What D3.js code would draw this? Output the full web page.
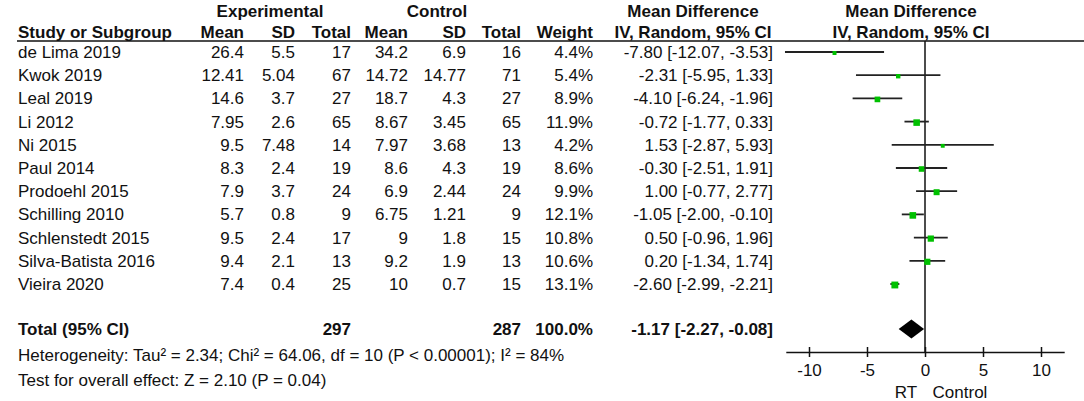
<!DOCTYPE html>
<html><head><meta charset="utf-8">
<script src="https://cdn.jsdelivr.net/npm/d3@7/dist/d3.min.js"></script>
<style>
body{margin:0;background:#fff}
text{font-family:"Liberation Sans",Arial,sans-serif;fill:#111}
</style></head>
<body><svg id="c" width="1084" height="401"></svg>
<script>
const studies = ["de Lima 2019","Kwok 2019","Leal 2019","Li 2012","Ni 2015","Paul 2014","Prodoehl 2015","Schilling 2010","Schlenstedt 2015","Silva-Batista 2016","Vieira 2020"];
const expMean = ["26.4","12.41","14.6","7.95","9.5","8.3","7.9","5.7","9.5","9.4","7.4"];
const expSD   = ["5.5","5.04","3.7","2.6","7.48","2.4","3.7","0.8","2.4","2.1","0.4"];
const expN    = [17,67,27,65,14,19,24,9,17,13,25];
const ctlMean = ["34.2","14.72","18.7","8.67","7.97","8.6","6.9","6.75","9","9.2","10"];
const ctlSD   = ["6.9","14.77","4.3","3.45","3.68","4.3","2.44","1.21","1.8","1.9","0.7"];
const ctlN    = [16,71,27,65,13,19,24,9,15,13,15];
const weight  = [4.4,5.4,8.9,11.9,4.2,8.6,9.9,12.1,10.8,10.6,13.1];
const md      = [-7.80,-2.31,-4.10,-0.72,1.53,-0.30,1.00,-1.05,0.50,0.20,-2.60];
const lo      = [-12.07,-5.95,-6.24,-1.77,-2.87,-2.51,-0.77,-2.00,-0.96,-1.34,-2.99];
const hi      = [-3.53,1.33,-1.96,0.33,5.93,1.91,2.77,-0.10,1.96,1.74,-2.21];
const total   = {expN:297, ctlN:287, weight:100.0, md:-1.17, lo:-2.27, hi:-0.08};
const ticks   = [-10,-5,0,5,10];
const heterogeneity = "Heterogeneity: Tau² = 2.34; Chi² = 64.06, df = 10 (P < 0.00001); I² = 84%";
const overall = "Test for overall effect: Z = 2.10 (P = 0.04)";

const svg = d3.select("#c");
const FS = 17;
const x = d3.scaleLinear().domain([-12,12]).range([785.8,1064.2]);
const rowY = i => 52 + 23.2*i;
const off = 6;

const cols = [
  {x:244, get:i=>expMean[i]},
  {x:295, get:i=>expSD[i]},
  {x:351, get:i=>expN[i]},
  {x:408, get:i=>ctlMean[i]},
  {x:466, get:i=>ctlSD[i]},
  {x:521, get:i=>ctlN[i]},
  {x:593, get:i=>weight[i].toFixed(1)+"%"},
  {x:773, get:i=>`${md[i].toFixed(2)} [${lo[i].toFixed(2)}, ${hi[i].toFixed(2)}]`}
];

const hdr = svg.append("g").attr("font-weight","bold").attr("font-size",FS);
hdr.append("text").attr("x",270).attr("y",17).attr("text-anchor","middle").text("Experimental");
hdr.append("text").attr("x",437).attr("y",17).attr("text-anchor","middle").text("Control");
hdr.append("text").attr("x",693).attr("y",17).attr("text-anchor","middle").text("Mean Difference");
hdr.append("text").attr("x",911).attr("y",17).attr("text-anchor","middle").text("Mean Difference");
hdr.append("text").attr("x",18).attr("y",38).text("Study or Subgroup");
const h2 = ["Mean","SD","Total","Mean","SD","Total","Weight"];
h2.forEach((t,k)=>hdr.append("text").attr("x",cols[k].x).attr("y",38).attr("text-anchor","end").text(t));
hdr.append("text").attr("x",693).attr("y",38).attr("text-anchor","middle").text("IV, Random, 95% CI");
hdr.append("text").attr("x",911).attr("y",38).attr("text-anchor","middle").text("IV, Random, 95% CI");

svg.append("line").attr("x1",17).attr("x2",1084).attr("y1",41).attr("y2",41)
  .attr("stroke","#111").attr("stroke-width",1.5);

const body = svg.append("g").attr("font-size",FS);
studies.forEach((s,i)=>{
  body.append("text").attr("x",18).attr("y",rowY(i)+off).text(s);
  cols.forEach(c=>body.append("text").attr("x",c.x).attr("y",rowY(i)+off).attr("text-anchor","end").text(c.get(i)));
});

const ty = 329;
const tot = svg.append("g").attr("font-size",FS).attr("font-weight","bold");
tot.append("text").attr("x",18).attr("y",ty+off).text("Total (95% CI)");
tot.append("text").attr("x",cols[2].x).attr("y",ty+off).attr("text-anchor","end").text(total.expN);
tot.append("text").attr("x",cols[5].x).attr("y",ty+off).attr("text-anchor","end").text(total.ctlN);
tot.append("text").attr("x",cols[6].x).attr("y",ty+off).attr("text-anchor","end").text(total.weight.toFixed(1)+"%");
tot.append("text").attr("x",cols[7].x).attr("y",ty+off).attr("text-anchor","end")
  .text(`${total.md.toFixed(2)} [${total.lo.toFixed(2)}, ${total.hi.toFixed(2)}]`);

svg.append("text").attr("font-size",FS).attr("x",18).attr("y",355+off).text(heterogeneity);
svg.append("text").attr("font-size",FS).attr("x",18).attr("y",380+off).text(overall);

const axisY = 352;
svg.append("line").attr("x1",x(0)).attr("x2",x(0)).attr("y1",41).attr("y2",axisY)
  .attr("stroke","#111").attr("stroke-width",1.5);

const g = svg.append("g");
studies.forEach((s,i)=>{
  g.append("line").attr("x1",x(lo[i])).attr("x2",x(hi[i])).attr("y1",rowY(i)).attr("y2",rowY(i))
    .attr("stroke","#222").attr("stroke-width",1.8);
  const sz = 1.9*Math.sqrt(weight[i]);
  g.append("rect").attr("x",x(md[i])-sz/2).attr("y",rowY(i)-sz/2+1).attr("width",sz).attr("height",sz)
    .attr("fill","#00c000");
});
g.append("path").attr("d",`M${x(total.lo)},${ty} L${x(total.md)},${ty-9.5} L${x(total.hi)},${ty} L${x(total.md)},${ty+9.5} Z`)
  .attr("fill","#000");

const ax = svg.append("g").attr("transform",`translate(0,${axisY})`)
  .call(d3.axisBottom(x).tickValues(ticks).tickSize(5).tickSizeOuter(0).tickFormat(d=>String(d)));
ax.select(".domain").attr("stroke","#111").attr("stroke-width",1.5);
ax.selectAll(".tick line").attr("stroke","#111").attr("stroke-width",1.5).attr("y1",-5);
ax.selectAll(".tick text").attr("font-size",FS).attr("font-family",'"Liberation Sans",Arial,sans-serif')
  .attr("fill","#111").attr("dy",0).attr("y",24);
svg.append("text").attr("font-size",FS).attr("x",906).attr("y",398).attr("text-anchor","middle").text("RT");
svg.append("text").attr("font-size",FS).attr("x",960).attr("y",398).attr("text-anchor","middle").text("Control");
</script></body></html>
